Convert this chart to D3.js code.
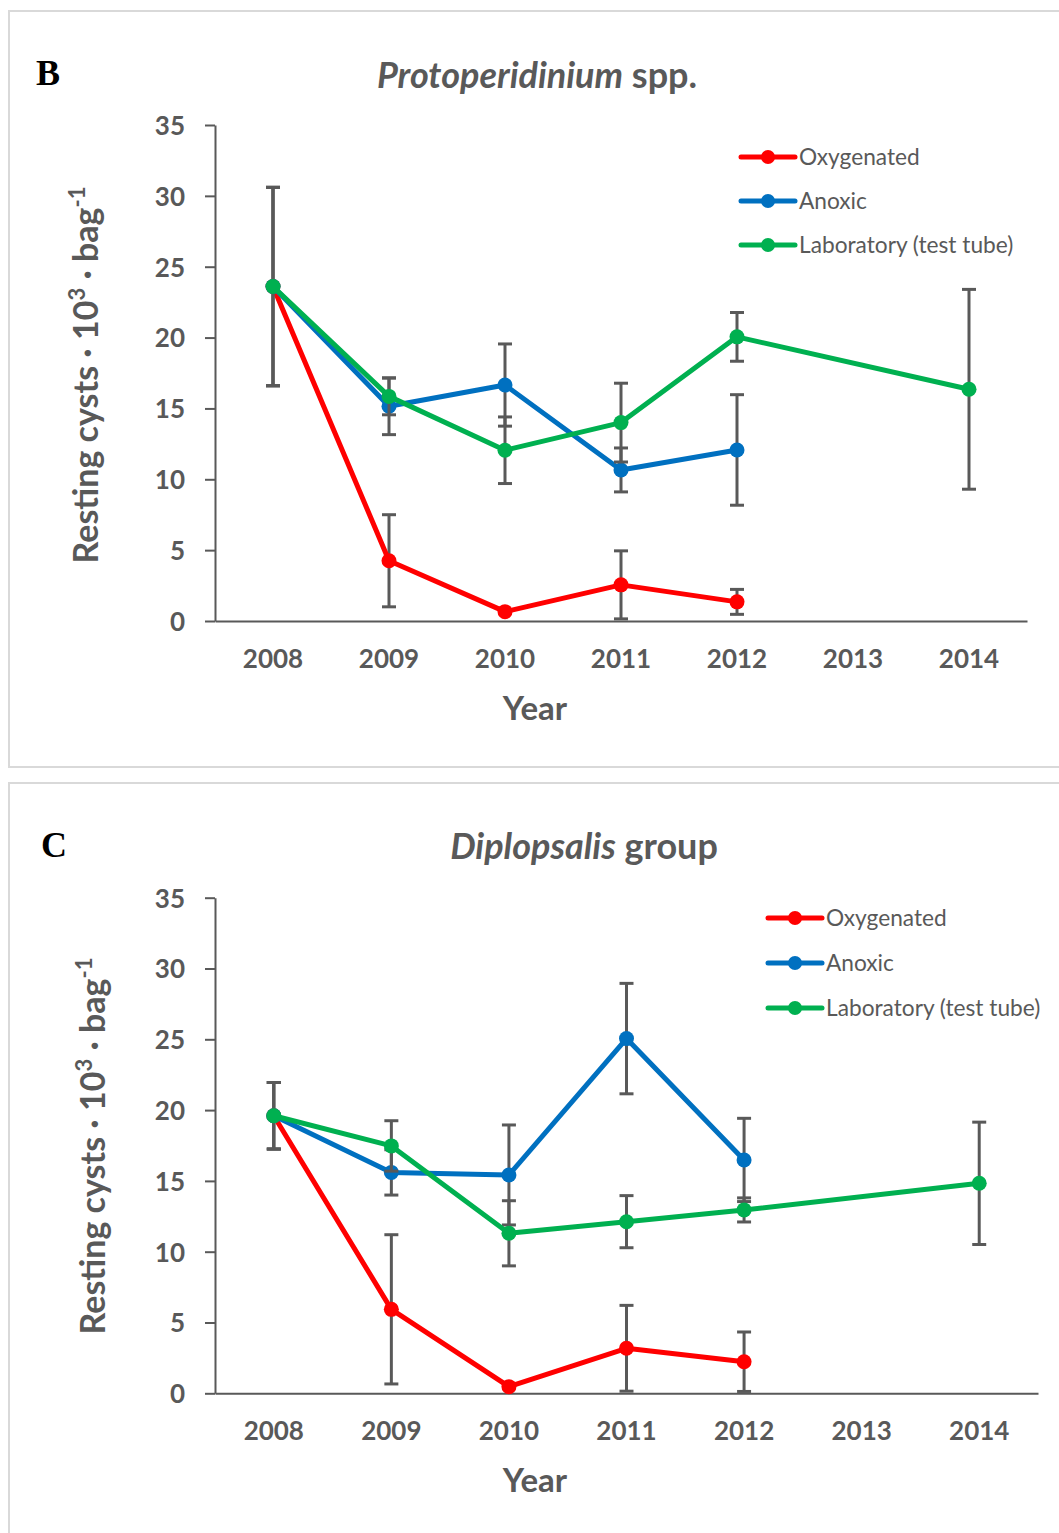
<!DOCTYPE html>
<html><head><meta charset="utf-8">
<script src="https://cdn.jsdelivr.net/npm/d3@7"></script>
<style>
html,body{margin:0;padding:0;background:#fff;}
</style></head>
<body>
<svg id="chart" width="1059" height="1533"></svg>
<script>
// ---- data ----
const years = ["2008","2009","2010","2011","2012","2013","2014"];
const yTicks = [0,5,10,15,20,25,30,35];
const seriesNames = ["Oxygenated","Anoxic","Laboratory (test tube)"];

// Panel B: Protoperidinium spp.
const bOxygenated    = [23.6, 4.25, 0.66, 2.55, 1.35, null, null];
const bOxygenatedErr = [7.0, 3.25, 0, 2.4, 0.88, null, null];
const bAnoxic        = [23.6, 15.15, 16.65, 10.66, 12.07, null, null];
const bAnoxicErr     = [7.0, 2.0, 2.9, 1.55, 3.9, null, null];
const bLaboratory    = [23.6, 15.85, 12.05, 14.0, 20.05, null, 16.35];
const bLaboratoryErr = [7.0, 1.3, 2.35, 2.78, 1.72, null, 7.05];

// Panel C: Diplopsalis group
const cOxygenated    = [19.6, 5.93, 0.47, 3.18, 2.23, null, null];
const cOxygenatedErr = [2.35, 5.27, 0, 3.03, 2.1, null, null];
const cAnoxic        = [19.6, 15.6, 15.42, 25.05, 16.48, null, null];
const cAnoxicErr     = [2.35, 1.6, 3.53, 3.9, 2.94, null, null];
const cLaboratory    = [19.6, 17.47, 11.3, 12.12, 12.95, null, 14.83];
const cLaboratoryErr = [2.35, 1.78, 2.3, 1.84, 0.85, null, 4.32];

const colors = ["#FF0000","#0070C0","#00B050"];
const gray = "#595959";
const FONT = "Lato, 'Open Sans', sans-serif";

const svg = d3.select("#chart");

function drawPanel(p) {
  const g = svg.append("g");
  g.append("rect").attr("x",p.frame[0]).attr("y",p.frame[1]).attr("width",p.frame[2]).attr("height",p.frame[3])
    .attr("fill","none").attr("stroke","#d9d9d9").attr("stroke-width",2);

  const x = d3.scaleBand().domain(years).range([p.x0,p.x1]);
  const y = d3.scaleLinear().domain([0,35]).range([p.yb,p.yt]);
  const cx = d => x(d) + x.bandwidth()/2;

  const ya = g.append("g").attr("transform",`translate(${p.x0},0)`)
    .call(d3.axisLeft(y).tickValues(yTicks).tickSize(10).tickSizeOuter(0).tickPadding(20));
  ya.select(".domain").attr("stroke",gray).attr("stroke-width",2);
  ya.selectAll(".tick line").attr("stroke",gray).attr("stroke-width",2);
  ya.selectAll(".tick text").attr("fill",gray).attr("font-size",26).attr("font-weight","bold")
    .style("font-family",FONT).attr("dy","0.36em");

  const xa = g.append("g").attr("transform",`translate(0,${p.yb})`)
    .call(d3.axisBottom(x).tickSize(0).tickSizeOuter(0).tickPadding(47));
  xa.select(".domain").attr("stroke",gray).attr("stroke-width",2);
  xa.selectAll(".tick text").attr("fill",gray).attr("font-size",26).attr("font-weight","bold")
    .style("font-family",FONT).attr("dy","0");

  g.append("text").attr("x",p.letter[0]).attr("y",p.letter[1]).text(p.letterText)
    .style("font-family","'Liberation Serif', 'DejaVu Serif', serif").attr("font-weight","bold").attr("font-size",36).attr("fill","#000");
  const t = g.append("text").attr("x",p.title[0]).attr("y",p.title[1]).attr("text-anchor","middle")
    .style("font-family",FONT).attr("font-size",36).attr("font-weight","bold").attr("fill",gray);
  t.append("tspan").attr("font-style","italic").text(p.titleItalic);
  t.append("tspan").text(p.titleRest);

  g.append("text").attr("x",p.xTitle[0]).attr("y",p.xTitle[1]).attr("text-anchor","middle")
    .style("font-family",FONT).attr("font-size",33).attr("font-weight","bold").attr("fill",gray).text("Year");

  const yt = g.append("text").attr("transform",`translate(${p.yTitle[0]},${p.yTitle[1]}) rotate(-90)`)
    .attr("text-anchor","middle").style("font-family",FONT).attr("font-size",34).attr("font-weight","bold").attr("fill",gray);
  yt.append("tspan").text("Resting cysts · 10");
  yt.append("tspan").attr("font-size",22).attr("dy",-13).text("3");
  yt.append("tspan").attr("dy",13).text(" · bag");
  yt.append("tspan").attr("font-size",22).attr("dy",-13).text("-1");

  p.series.forEach((s,i) => {
    const pts = years.map((yr,j)=>({yr, v:s.v[j], e:s.e[j]})).filter(d=>d.v!=null);
    const sg = g.append("g");
    pts.filter(d=>d.e>0).forEach(d=>{
      const X = cx(d.yr), top = y(d.v+d.e), bot = y(Math.max(0,d.v-d.e));
      sg.append("line").attr("x1",X).attr("x2",X).attr("y1",top).attr("y2",bot).attr("stroke",gray).attr("stroke-width",3);
      [top,bot].forEach(yy=>sg.append("line").attr("x1",X-7).attr("x2",X+7).attr("y1",yy).attr("y2",yy)
        .attr("stroke",gray).attr("stroke-width",3));
    });
    sg.append("path").datum(pts).attr("fill","none").attr("stroke",colors[i]).attr("stroke-width",5)
      .attr("stroke-linejoin","round")
      .attr("d",d3.line().x(d=>cx(d.yr)).y(d=>y(d.v)));
    sg.selectAll("circle").data(pts).join("circle").attr("cx",d=>cx(d.yr)).attr("cy",d=>y(d.v)).attr("r",7.5)
      .attr("fill",colors[i]);
  });

  seriesNames.forEach((n,i)=>{
    const ly = p.legend[1] + i*p.legendGap;
    g.append("line").attr("x1",p.legend[0]-27).attr("x2",p.legend[0]+27).attr("y1",ly).attr("y2",ly)
      .attr("stroke",colors[i]).attr("stroke-width",5).attr("stroke-linecap","round");
    g.append("circle").attr("cx",p.legend[0]).attr("cy",ly).attr("r",7).attr("fill",colors[i]);
    g.append("text").attr("x",p.legend[0]+31).attr("y",ly+8).style("font-family",FONT)
      .attr("font-size",22.7).attr("fill",gray).text(n);
  });
}

drawPanel({
  frame:[9,11,1060,756], x0:215, x1:1027, yb:621, yt:125,
  letter:[36,85], letterText:"B", title:[537,88], titleItalic:"Protoperidinium", titleRest:" spp.",
  xTitle:[535,720], yTitle:[98,375], legend:[768,157], legendGap:44,
  series:[{v:bOxygenated,e:bOxygenatedErr},{v:bAnoxic,e:bAnoxicErr},{v:bLaboratory,e:bLaboratoryErr}]
});
drawPanel({
  frame:[9,783,1060,760], x0:215, x1:1038, yb:1393.3, yt:897.7,
  letter:[41,857], letterText:"C", title:[584,859], titleItalic:"Diplopsalis", titleRest:" group",
  xTitle:[535,1492], yTitle:[105,1146], legend:[795,918], legendGap:45,
  series:[{v:cOxygenated,e:cOxygenatedErr},{v:cAnoxic,e:cAnoxicErr},{v:cLaboratory,e:cLaboratoryErr}]
});
</script>
</body></html>
